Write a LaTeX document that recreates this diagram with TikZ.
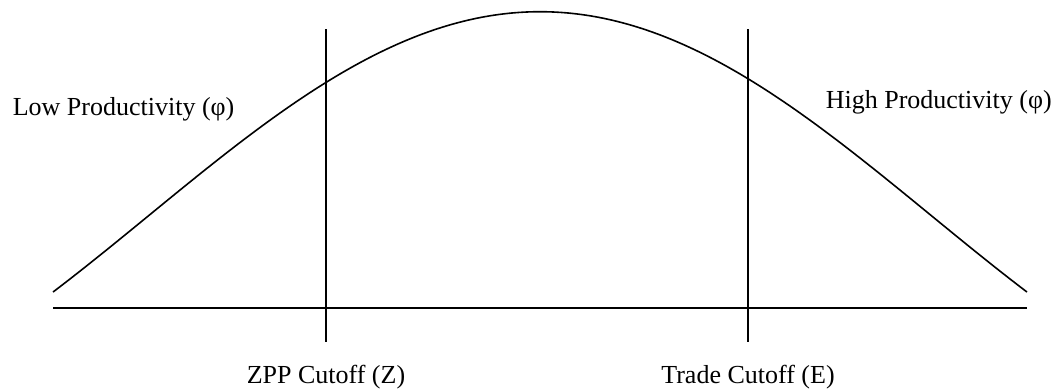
\documentclass[tikz,border=0pt]{standalone}
\usepackage{fontspec}
\setmainfont{Liberation Serif}
\usetikzlibrary{positioning}
\tikzset{
  lbl/.style={inner sep=0pt, font=\fontsize{19.5}{22}\selectfont},
}
\begin{document}
\begin{tikzpicture}[x=0.75pt,y=-0.75pt,line width=1.2pt]
\useasboundingbox (0,0) rectangle (1058,390);
\coordinate (ax0) at (53,307.7);
\coordinate (ax1) at (1027,307.7);
\coordinate (zt) at (326,29);
\coordinate (zb) at (326,342);
\coordinate (et) at (748,29);
\coordinate (eb) at (748,342);
\draw(ax0)--(ax1);
\draw(zt)--(zb);
\draw(et)--(eb);
\draw plot[domain=53:1027,samples=121,smooth] (\x,{215.7-204*cos(deg(0.00402*(\x-540)))});
\node[lbl,anchor=base west] (low) at(12,115){Low Productivity (φ)};
\node[lbl,anchor=base west] (high) at(825,108){High Productivity (φ)};
\node[lbl,anchor=base] (zpp) at([yshift=-30.75pt]zb){ZPP Cutoff (Z)};
\node[lbl,anchor=base] (trade) at([yshift=-30.75pt]eb){Trade Cutoff (E)};
\end{tikzpicture}
\end{document}
